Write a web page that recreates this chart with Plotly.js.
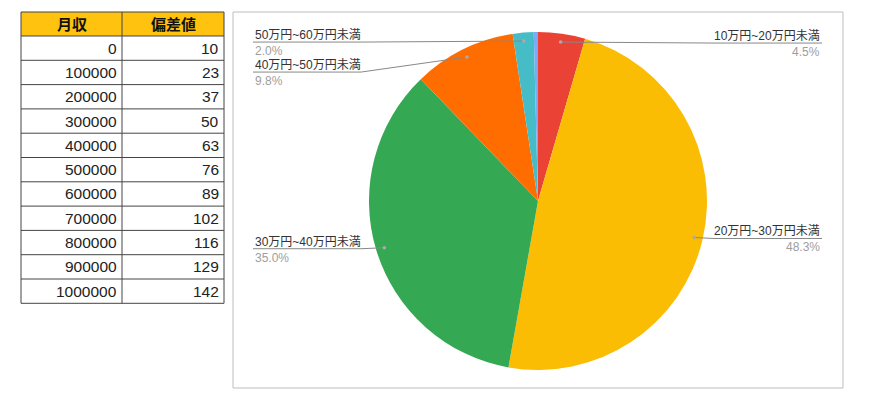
<!DOCTYPE html>
<html>
<head>
<meta charset="utf-8">
<script src="https://cdn.plot.ly/plotly-3.0.1.min.js"></script>
<style>
  html, body { margin: 0; padding: 0; background: #fff; }
  #chart { width: 870px; height: 411px; }
</style>
</head>
<body>
<div id="chart"></div>
<script>
// table data
var headers = ['月収', '偏差値'];
var income = [0, 100000, 200000, 300000, 400000, 500000, 600000, 700000, 800000, 900000, 1000000];
var hensachi = [10, 23, 37, 50, 63, 76, 89, 102, 116, 129, 142];

// pie data (clockwise from 12 o'clock)
var bands = ['10万円~20万円未満', '20万円~30万円未満', '30万円~40万円未満', '40万円~50万円未満', '50万円~60万円未満', '60万円以上'];
var shares = [4.5, 48.3, 35.0, 9.8, 2.0, 0.4];
var showLabel = [true, true, true, true, true, false];
var sliceColors = ['#EA4335', '#FBBC04', '#34A853', '#FF6D01', '#46BDC6', '#7BAAF7'];

var W = 870, H = 411;
function px(x) { return x / W; }
function py(y) { return 1 - y / H; }

var fnt = 'Liberation Sans, Noto Sans CJK JP, sans-serif';
var shapes = [];
var annotations = [];

// spreadsheet-like table on the left
var colEdges = [21, 122, 224];
var tTop = 12, headH = 24, rowH = 24.3;
var columns = [income, hensachi];

shapes.push({ type: 'rect', xref: 'paper', yref: 'paper', layer: 'below',
    x0: px(colEdges[0]), x1: px(colEdges[2]), y0: py(tTop + headH), y1: py(tTop),
    fillcolor: '#FFC20E', line: { width: 0 } });
for (var c = 0; c < 2; c++) {
    annotations.push({ xref: 'paper', yref: 'paper', showarrow: false,
        x: px((colEdges[c] + colEdges[c + 1]) / 2), y: py(tTop + headH / 2),
        xanchor: 'center', yanchor: 'middle',
        text: '<b>' + headers[c] + '</b>', font: { family: fnt, size: 15, color: '#111' } });
    for (var r = 0; r < columns[c].length; r++) {
        annotations.push({ xref: 'paper', yref: 'paper', showarrow: false,
            x: px(colEdges[c + 1] - 3), y: py(tTop + headH + rowH * (r + 0.5)),
            xanchor: 'right', yanchor: 'middle',
            text: String(columns[c][r]), font: { family: fnt, size: 15.5, color: '#222' } });
    }
}
var tBottom = tTop + headH + rowH * income.length;
for (var r = 0; r <= income.length + 1; r++) {
    var yy = r === 0 ? tTop : tTop + headH + rowH * (r - 1);
    shapes.push({ type: 'line', xref: 'paper', yref: 'paper',
        x0: px(colEdges[0]), x1: px(colEdges[2]), y0: py(yy), y1: py(yy),
        line: { color: '#444', width: 1 } });
}
colEdges.forEach(function(x) {
    shapes.push({ type: 'line', xref: 'paper', yref: 'paper',
        x0: px(x), x1: px(x), y0: py(tTop), y1: py(tBottom),
        line: { color: '#444', width: 1 } });
});

// pie
var cx = 538, cy = 201, rad = 169;
var pieTrace = {
    type: 'pie',
    labels: bands,
    values: shares,
    sort: false,
    direction: 'clockwise',
    rotation: 0,
    textinfo: 'none',
    hoverinfo: 'skip',
    showlegend: false,
    marker: { colors: sliceColors, line: { width: 0 } },
    domain: { x: [px(cx - rad), px(cx + rad)], y: [py(cy + rad), py(cy - rad)] }
};

// chart frame
shapes.push({
    type: 'rect', xref: 'paper', yref: 'paper',
    x0: px(233), x1: px(843), y0: py(388), y1: py(12),
    line: { color: '#bdbdbd', width: 1 }
});

// slice labels, Google Sheets style
var total = shares.reduce(function(a, b) { return a + b; }, 0);
var cum = 0;
var items = [];
for (var i = 0; i < shares.length; i++) {
    var mid = 2 * Math.PI * (cum + shares[i] / 2) / total;
    cum += shares[i];
    if (!showLabel[i]) continue;
    items.push({
        i: i,
        dx: cx + 0.95 * rad * Math.sin(mid),
        dy: cy - 0.95 * rad * Math.cos(mid),
        side: Math.sin(mid) >= 0 ? 'right' : 'left'
    });
}

['left', 'right'].forEach(function(side) {
    var list = items.filter(function(d) { return d.side === side; })
        .sort(function(a, b) { return a.dy - b.dy; });
    var last = -1e9;
    list.forEach(function(d) {
        var uy = Math.max(d.dy + 1, last + 30);
        last = uy;
        var ux0, ux1, tx, anchor;
        if (side === 'right') {
            ux0 = 714; ux1 = 822; tx = ux1; anchor = 'right';
            shapes.push({ type: 'line', xref: 'paper', yref: 'paper',
                x0: px(d.dx), y0: py(d.dy), x1: px(ux0), y1: py(uy),
                line: { color: '#888', width: 1 } });
        } else {
            ux0 = 253; ux1 = 361; tx = ux0; anchor = 'left';
            shapes.push({ type: 'line', xref: 'paper', yref: 'paper',
                x0: px(ux1), y0: py(uy), x1: px(d.dx), y1: py(d.dy),
                line: { color: '#888', width: 1 } });
        }
        shapes.push({ type: 'line', xref: 'paper', yref: 'paper',
            x0: px(ux0), y0: py(uy), x1: px(ux1), y1: py(uy),
            line: { color: '#888', width: 1 } });
        shapes.push({ type: 'circle', xref: 'paper', yref: 'paper',
            x0: px(d.dx - 1.8), x1: px(d.dx + 1.8), y0: py(d.dy + 1.8), y1: py(d.dy - 1.8),
            fillcolor: '#aaa', line: { width: 0 } });
        annotations.push({ xref: 'paper', yref: 'paper', x: px(tx), y: py(uy + 2),
            xanchor: anchor, yanchor: 'bottom', showarrow: false,
            text: bands[d.i], font: { family: fnt, size: 12, color: '#333' } });
        annotations.push({ xref: 'paper', yref: 'paper', x: px(tx), y: py(uy),
            xanchor: anchor, yanchor: 'top', showarrow: false,
            text: shares[d.i].toFixed(1) + '%', font: { family: fnt, size: 12, color: '#9e9e9e' } });
    });
});

var layout = {
    width: W,
    height: H,
    margin: { l: 0, r: 0, t: 0, b: 0, pad: 0 },
    paper_bgcolor: '#fff',
    shapes: shapes,
    annotations: annotations
};

Plotly.newPlot('chart', [pieTrace], layout, { displayModeBar: false, staticPlot: true });
</script>
</body>
</html>
